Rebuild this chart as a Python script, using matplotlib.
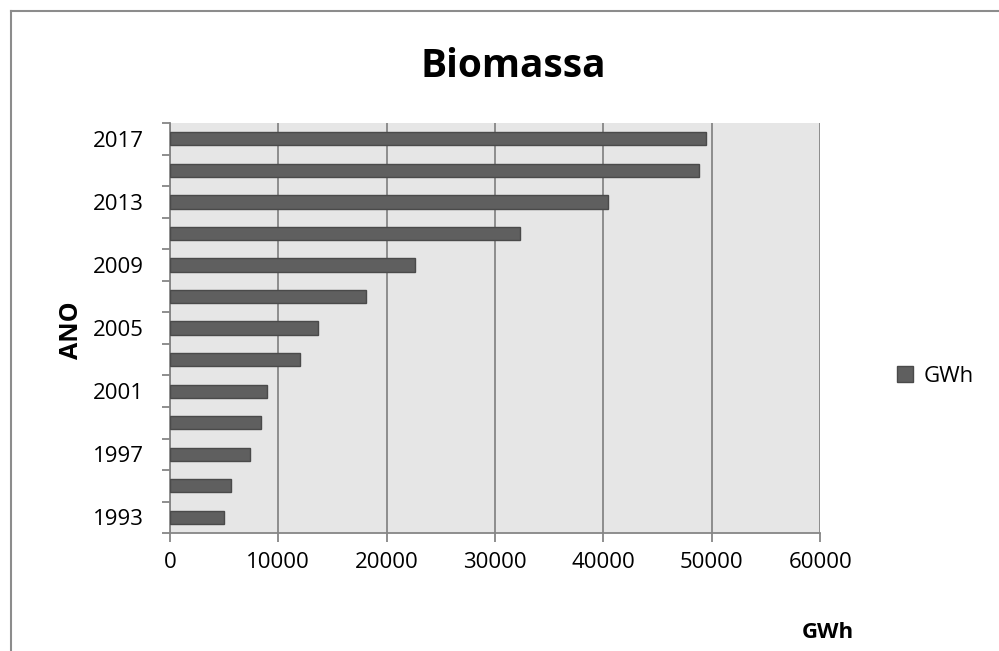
import numpy as np
import matplotlib
matplotlib.use("Agg")
import matplotlib.pyplot as plt
from matplotlib.lines import Line2D

plt.rcParams['font.family'] = ['Open Sans', 'DejaVu Sans']

# Biomass generation by year (GWh)
years = [1993, 1995, 1997, 1999, 2001, 2003, 2005, 2007, 2009, 2011, 2013, 2015, 2017]
gwh = [5010, 5630, 7430, 8410, 9000, 11980, 13650, 18100, 22650, 32300, 40400, 48850, 49450]
year_labels = [str(y) if i % 2 == 0 else "" for i, y in enumerate(years)]
x_ticks = [0, 10000, 20000, 30000, 40000, 50000, 60000]

fig = plt.figure(figsize=(9.99, 6.51), dpi=100)
ax = fig.add_axes([0.170, 0.181, 0.651, 0.630])
ax.set_facecolor("#e6e6e6")

pos = np.arange(len(years))
ax.barh(pos, gwh, height=0.42, color="#5f5f5f", edgecolor="#4a4a4a", linewidth=1.0, zorder=3)

ax.set_xlim(0, 60000)
ax.set_ylim(-0.5, len(years) - 0.5)
ax.set_xticks(x_ticks)
ax.set_xticklabels([str(v) for v in x_ticks], fontsize=16)
ax.set_yticks(pos)
ax.set_yticklabels(year_labels, fontsize=16)

# category ticks sit between bars
ax.set_yticks(np.arange(-0.5, len(years), 1), minor=True)
ax.tick_params(axis='y', which='major', length=0, pad=18.5)
ax.tick_params(axis='y', which='minor', length=6, width=1.3, color="#868686", direction='out')
ax.tick_params(axis='x', which='major', length=6.5, width=1.3, color="#868686", direction='out', pad=7)

ax.grid(axis='x', color="#868686", linewidth=1.3, zorder=1)
for side in ['top', 'right']:
    ax.spines[side].set_visible(False)
for side in ['left', 'bottom']:
    ax.spines[side].set_color("#868686")
    ax.spines[side].set_linewidth(1.3)

fig.text(0.5135, 0.8817, "Biomassa", fontsize=28, fontweight='bold', ha='center', va='baseline')
fig.text(0.072, 0.493, "ANO", fontsize=18, fontweight='bold', rotation=90, ha='center', va='center')
fig.text(0.829, 0.029, "GWh", fontsize=16, fontweight='bold', ha='center', va='center')

handle = plt.Rectangle((0, 0), 1, 1, facecolor="#5f5f5f", edgecolor="#4a4a4a")
fig.legend([handle], ["GWh"], loc='center left', bbox_to_anchor=(0.887, 0.422),
           frameon=False, fontsize=16, borderpad=0, handlelength=0.7, handleheight=0.7,
           handletextpad=0.5)

# chart border
fig.add_artist(Line2D([0.011, 0.011], [0, 0.983], color="#8c8c8c", linewidth=1.5, transform=fig.transFigure))
fig.add_artist(Line2D([0.011, 1.0], [0.983, 0.983], color="#8c8c8c", linewidth=1.5, transform=fig.transFigure))

fig.savefig("out.png", dpi=100)
